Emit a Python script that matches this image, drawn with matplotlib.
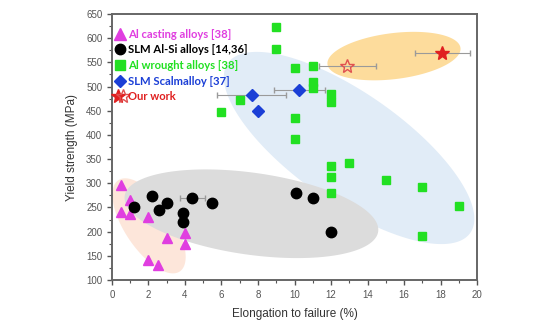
import numpy as np
import matplotlib
matplotlib.use("Agg")
import matplotlib.pyplot as plt
from matplotlib.lines import Line2D
from matplotlib.legend_handler import HandlerTuple

# ---- data ----
cast_x = [0.5, 1.0, 0.5, 1.0, 2.0, 3.0, 4.0, 4.0, 2.0, 2.5]
cast_y = [297, 266, 241, 237, 231, 186, 197, 175, 141, 131]

alsi_x = [1.2, 2.2, 2.6, 3.0, 3.9, 3.9, 4.4, 5.5, 10.1, 11.0, 12.0]
alsi_y = [250, 274, 245, 260, 239, 220, 270, 260, 279, 270, 200]
alsi_xerr = [0, 0, 0, 0, 0, 0, 0.7, 0, 0, 0, 0]

wro_x = [9, 9, 10, 11, 11, 11, 12, 12, 7, 6, 10, 10, 12, 13, 12, 12, 15, 17, 19, 17]
wro_y = [623, 578, 538, 542, 510, 497, 485, 468, 472, 448, 436, 392, 336, 341,
         312, 279, 307, 292, 252, 192]

scal_x = [7.65, 7.98, 10.26]
scal_y = [482, 450, 493]
scal_xerr = [1.9, 0, 1.4]

ours_open_x, ours_open_y, ours_open_xerr = [12.9], [542], [1.55]
ours_fill_x, ours_fill_y, ours_fill_xerr = [18.1], [569], [1.5]

labels = ["Al casting alloys [38]", "SLM Al-Si alloys [14,36]",
          "Al wrought alloys [38]", "SLM Scalmalloy [37]", "Our work"]

# shaded regions: centre (data), semi-axes (px), angle (deg, px space)
regions = [
    dict(c=(12.99, 373), a=148, b=55, ang=-35, col="#e1ecf7"),
    dict(c=(2.03, 212), a=55, b=24, ang=-56, col="#fde6da"),
    dict(c=(7.64, 237), a=128, b=41, ang=-8, col="#dcdcdc"),
    dict(c=(15.45, 563), a=67, b=23, ang=7, col="#fddc9c"),
]

plt.rcParams['font.family'] = ['Liberation Sans', 'DejaVu Sans']
fig = plt.figure(figsize=(5.53, 3.32), dpi=100)
ax = fig.add_axes([0.2025, 0.1566, 0.6601, 0.8012])
ax.set_xlim(0, 20)
ax.set_ylim(100, 650)

# ellipses drawn in display space, converted to data
t = np.linspace(0, 2 * np.pi, 200)
for r in regions:
    th = np.deg2rad(r["ang"])
    u = r["a"] * np.cos(th) * np.cos(t) - r["b"] * np.sin(th) * np.sin(t)
    v = r["a"] * np.sin(th) * np.cos(t) + r["b"] * np.cos(th) * np.sin(t)
    cx, cy = ax.transData.transform(r["c"])
    pts = ax.transData.inverted().transform(np.column_stack([cx + u, cy + v]))
    ax.fill(pts[:, 0], pts[:, 1], color=r["col"], lw=0, zorder=1)

ecol = "#9a9a9a"
for xs, ys, xe in [(alsi_x, alsi_y, alsi_xerr), (scal_x, scal_y, scal_xerr),
                   (ours_open_x, ours_open_y, ours_open_xerr),
                   (ours_fill_x, ours_fill_y, ours_fill_xerr)]:
    ax.errorbar(xs, ys, xerr=xe, fmt='none', ecolor=ecol, elinewidth=0.8,
                capsize=2, zorder=2)

mag, grn, blu, red = "#e03ee0", "#22e022", "#1b3fd6", "#e02020"
ax.plot(cast_x, cast_y, '^', color=mag, ms=7.5, ls='none', zorder=3)
ax.plot(alsi_x, alsi_y, 'o', color='black', ms=7.5, ls='none', zorder=3)
ax.plot(wro_x, wro_y, 's', color=grn, ms=5.5, ls='none', zorder=3)
ax.plot(scal_x, scal_y, 'D', color=blu, ms=6, ls='none', zorder=3)
ax.plot(ours_open_x, ours_open_y, '*', mfc='none', mec="#e05050", mew=1.0, ms=10,
        ls='none', zorder=3)
ax.plot(ours_fill_x, ours_fill_y, '*', color=red, ms=10, ls='none', zorder=3)

# legend
h_cast = Line2D([], [], marker='^', color=mag, ls='none', ms=8)
h_alsi = Line2D([], [], marker='o', color='black', ls='none', ms=7.5)
h_wro = Line2D([], [], marker='s', color=grn, ls='none', ms=6.5)
h_scal = Line2D([], [], marker='D', color=blu, ls='none', ms=6.5)
h_s1 = Line2D([], [], marker='*', color=red, ls='none', ms=10)
h_s2 = Line2D([], [], marker='*', mfc='none', mec="#e05050", ls='none', ms=10)
leg = ax.legend([h_cast, h_alsi, h_wro, h_scal, (h_s1, h_s2)], labels,
                handler_map={tuple: HandlerTuple(ndivide=None, pad=0.1)},
                loc='upper left', bbox_to_anchor=(-0.012, 0.975), frameon=False,
                prop=dict(family='Lato', weight='bold', size=8.1),
                labelcolor=[mag, 'black', grn, blu, red],
                handlelength=0.85, handletextpad=0.3, labelspacing=0.42,
                borderpad=0.2)
leg.set_zorder(5)

ax.set_xticks(np.arange(0, 21, 2))
ax.set_xticks(np.arange(0, 21, 1), minor=True)
ax.set_yticks(np.arange(100, 651, 50))
ax.set_yticks(np.arange(100, 651, 25), minor=True)
ax.tick_params(which='both', direction='out', colors="#555555", labelsize=7)
ax.tick_params(which='major', length=3.5, width=1)
ax.tick_params(which='minor', length=2, width=0.8)
for s in ax.spines.values():
    s.set_color("#666666")
    s.set_linewidth(1.4)
ax.set_xlabel("Elongation to failure (%)", fontsize=8.5, color="#333333", labelpad=6)
ax.set_ylabel("Yield strength (MPa)", fontsize=8.5, color="#333333", labelpad=6)

fig.savefig("out.png", dpi=100)
